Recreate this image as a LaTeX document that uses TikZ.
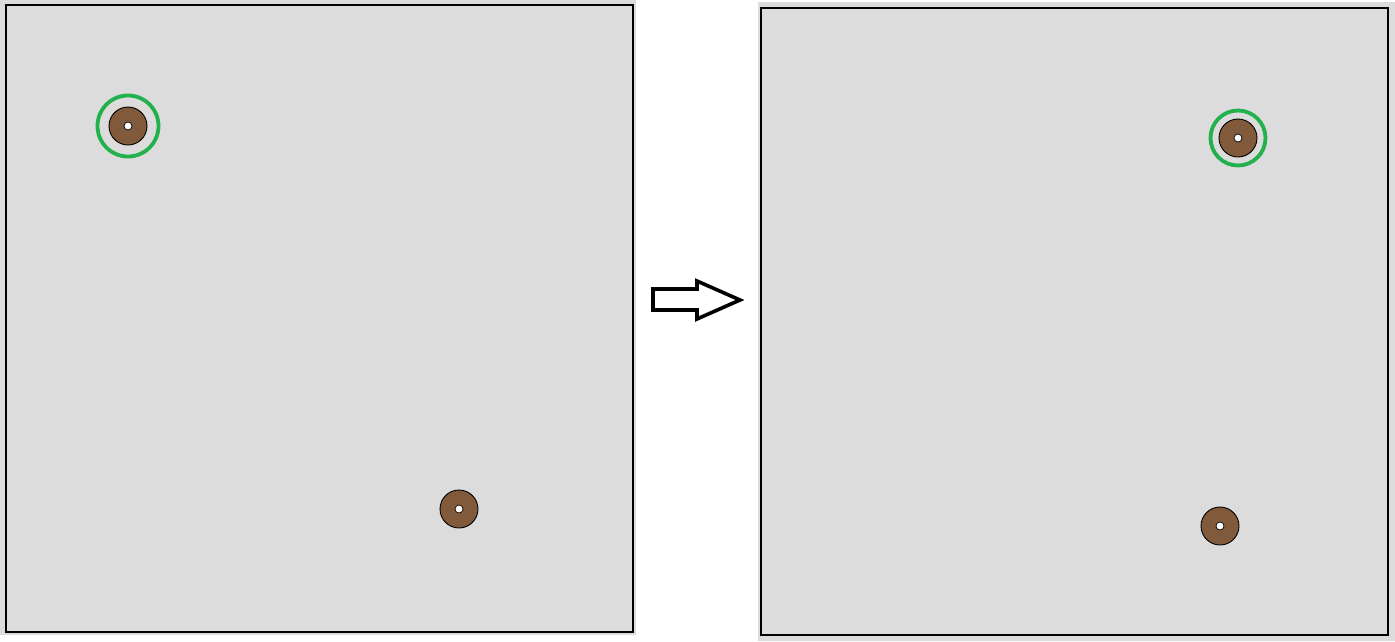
\documentclass[tikz,border=0pt]{standalone}
\definecolor{panelgray}{RGB}{220,220,220}
\definecolor{brownfill}{RGB}{128,90,58}
\definecolor{selgreen}{RGB}{34,177,76}
\begin{document}
\begin{tikzpicture}[x=1pt,y=-1pt,
  panel/.style={fill=panelgray,draw=none},
  frame/.style={draw=black,line width=1.3pt},
  token/.style={circle,draw=black,fill=brownfill,line width=0.9pt,minimum size=38pt,inner sep=0pt},
  hole/.style={circle,draw=black,fill=white,line width=0.7pt,minimum size=8pt,inner sep=0pt},
  ring/.style={circle,draw=selgreen,line width=3.8pt,inner sep=0pt}]
\useasboundingbox (0,0) rectangle (1395,641);
\fill[white] (0,0) rectangle (1395,641);
% left panel
\path[panel] (0,0) rectangle (636,635);
\draw[frame] (6,5) rectangle (633,632);
% right panel
\path[panel] (758,2) rectangle (1395,641);
\draw[frame] (761,8) rectangle (1388,635);
% left tokens
\node[ring,minimum size=61pt] (r1) at (128,126) {};
\node[token] (a1) at (128,126) {};
\node[hole] (h1) at (a1.center) {};
\node[token] (a2) at (459,509) {};
\node[hole] (h2) at (a2.center) {};
% right tokens
\node[ring,minimum size=55pt] (r2) at (1238,138) {};
\node[token] (b1) at (1238,138) {};
\node[hole] (h3) at (b1.center) {};
\node[token] (b2) at (1220,526) {};
\node[hole] (h4) at (b2.center) {};
% arrow
\draw[line width=3.6pt,fill=white,line join=miter]
  (653,289) -- (697,289) -- (697,281) -- (740,300) -- (697,319) -- (697,310) -- (653,310) -- cycle;
\end{tikzpicture}
\end{document}
